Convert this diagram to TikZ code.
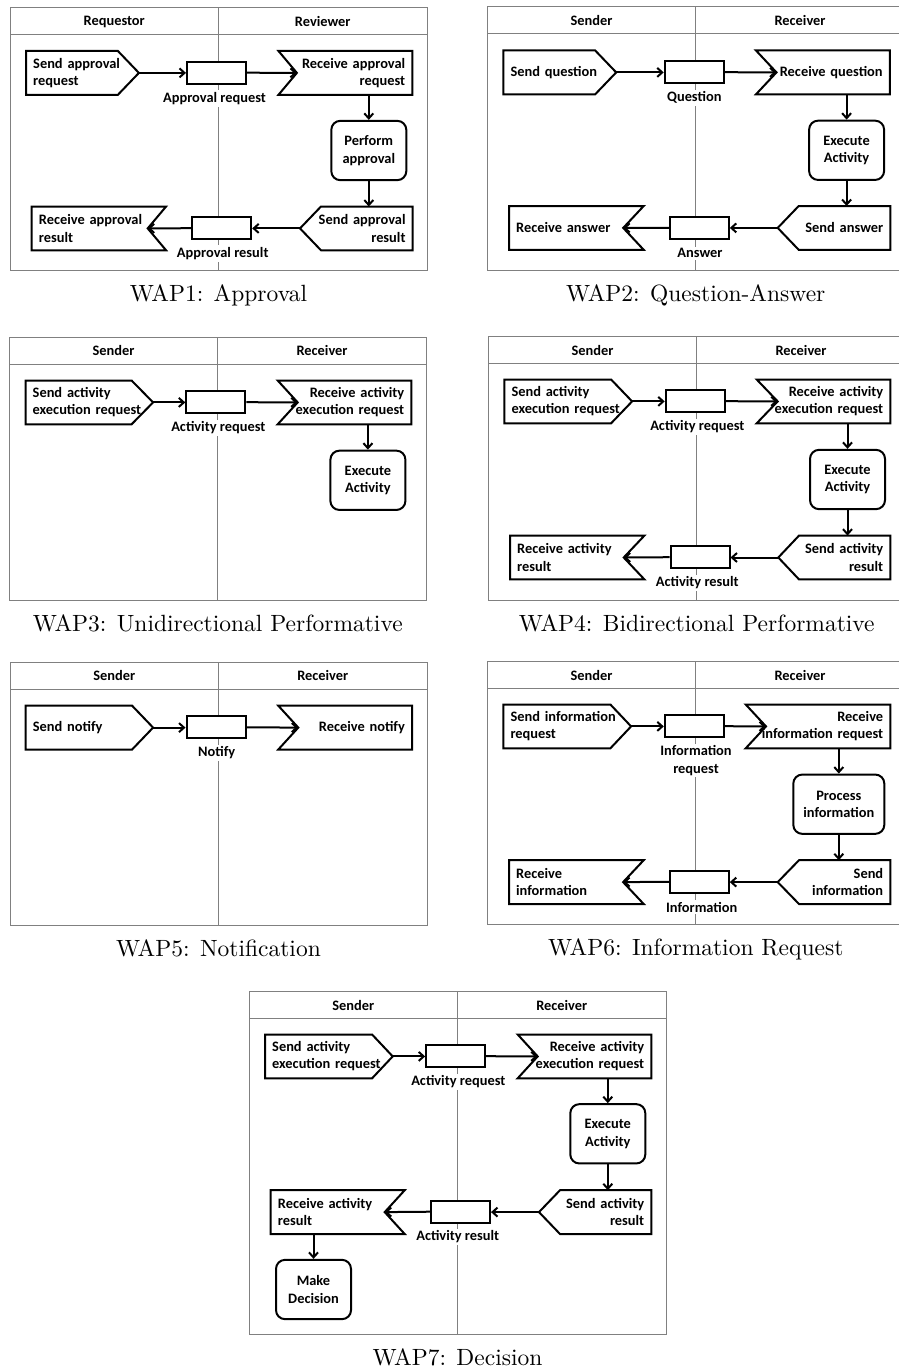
\documentclass[tikz,border=0pt]{standalone}
\usepackage{fontspec}
\newfontfamily\carlito{Carlito}
\newfontfamily\capfont{lmroman10-regular}[Extension=.otf]
\usetikzlibrary{arrows.meta}
\newcommand{\dfnt}{\carlito\bfseries\fontsize{14.4}{17.3}\selectfont}
\newcommand{\cfnt}{\capfont\fontsize{23.5}{28}\selectfont}
% outlines drawn around the named text nodes
\newcommand{\outSendR}[2]{\draw[shp] (#1.north west) -- ([xshift=-#2]#1.north east) -- (#1.east) -- ([xshift=-#2]#1.south east) -- (#1.south west) -- cycle;}
\newcommand{\outRecvL}[2]{\draw[shp] (#1.north west) -- (#1.north east) -- (#1.south east) -- (#1.south west) -- ([xshift=#2]#1.west) -- cycle; \coordinate (#1-n) at ([xshift=#2]#1.west);}
\newcommand{\outSendL}[2]{\draw[shp] (#1.west) -- ([xshift=#2]#1.north west) -- (#1.north east) -- (#1.south east) -- ([xshift=#2]#1.south west) -- cycle;}
\newcommand{\outRecvR}[2]{\draw[shp] (#1.north west) -- (#1.north east) -- ([xshift=-#2]#1.east) -- (#1.south east) -- (#1.south west) -- cycle; \coordinate (#1-n) at ([xshift=-#2]#1.east);}
\newcommand{\wapframe}[5]{%
  \draw[laneframe] (0,0) rectangle (417,#2);
  \draw[laneframe] (0,27) -- (417,27);
  \draw[laneframe] (208.5,0) -- (208.5,#2);
  \node[hdrtxt] (#1h1) at (104.25,13.5) {#3};
  \node[hdrtxt] (#1h2) at (312.75,13.5) {#4};
  \node[captxt] (#1cap) at (208.5,#2+31) {#5};
}
\begin{document}
\begin{tikzpicture}[x=1pt,y=-1pt,
  laneframe/.style={draw=black!50, line width=1pt},
  hdrtxt/.style={font=\dfnt, inner sep=0pt},
  captxt/.style={font=\cfnt, anchor=base, inner sep=0pt},
  shp/.style={draw=black, line width=2pt, line join=miter},
  sR/.style={rectangle, anchor=north west, inner xsep=7pt, inner ysep=0pt, minimum height=43.4pt, align=left, font=\dfnt},
  rL/.style={rectangle, anchor=north west, inner xsep=7pt, inner ysep=0pt, minimum height=43.4pt, align=right, font=\dfnt},
  sL/.style={rectangle, anchor=north west, inner xsep=7pt, inner ysep=0pt, minimum height=43.4pt, align=right, font=\dfnt},
  rR/.style={rectangle, anchor=north west, inner xsep=7pt, inner ysep=0pt, minimum height=43.4pt, align=left, font=\dfnt},
  proc/.style={draw=black, line width=2pt, rounded corners=9pt, minimum width=75pt, minimum height=59.3pt, inner sep=0pt, align=center, font=\dfnt},
  dbox/.style={draw=black, fill=white, line width=2pt, minimum width=59pt, minimum height=22pt, inner sep=0pt},
  dlab/.style={fill=white, font=\dfnt, inner sep=2pt, align=center},
  arr/.style={draw=black, line width=2pt, -{Straight Barb[length=5pt,width=9pt]}}
]
\useasboundingbox (0,0) rectangle (898,1370);
\fill[white] (0,0) rectangle (898,1370);

% ---------------- WAP1 ----------------
\begin{scope}[shift={(10,8)}]
\wapframe{p1}{262}{Requestor}{Reviewer}{WAP1: Approval}
\node[sR, text width=98.5pt] (p1a) at (16,43) {Send~approval\\request};
\outSendR{p1a}{21pt}
\node[dbox] (p1b) at (206.5,64.7) {};
\node[dlab] (p1c) at (204.5,90.4) {Approval request};
\node[rL, text width=119.5pt] (p1d) at (268.5,43) {Receive~approval\\request};
\outRecvL{p1d}{18.4pt}
\node[proc] (p1e) at (358.8,142.5) {Perform\\approval};
\node[sL, text width=98.3pt] (p1f) at (290,198.5) {Send~approval\\result};
\outSendL{p1f}{21pt}
\node[dbox] (p1g) at (211.7,220.2) {};
\node[dlab] (p1h) at (212.7,245.5) {Approval result};
\node[rR, text width=120pt] (p1i) at (21.7,198.5) {Receive~approval\\result};
\outRecvR{p1i}{18.4pt}
\draw[arr] (p1a.east) -- (p1a.east -| p1b.west);
\draw[arr] (p1b.east) -- (p1d-n);
\draw[arr] (p1e.north |- p1d.south) -- (p1e.north);
\draw[arr] (p1e.south) -- (p1e.south |- p1f.north);
\draw[arr] (p1f.west) -- (p1f.west -| p1g.east);
\draw[arr] (p1g.west) -- (p1i-n);
\end{scope}

% ---------------- WAP2 ----------------
\begin{scope}[shift={(487.3,7)}]
\wapframe{p2}{263}{Sender}{Receiver}{WAP2: Question-Answer}
\node[sR, text width=98.5pt] (p2a) at (16,43.5) {Send~question};
\outSendR{p2a}{21pt}
\node[dbox] (p2b) at (206.9,65.2) {};
\node[dlab] (p2c) at (207,90.7) {Question};
\node[rL, text width=119.5pt] (p2d) at (268.7,43.5) {Receive~question};
\outRecvL{p2d}{20.5pt}
\node[proc] (p2e) at (359.3,143.3) {Execute\\Activity};
\node[sL, text width=98.3pt] (p2f) at (290.4,199) {Send~answer};
\outSendL{p2f}{21pt}
\node[dbox] (p2g) at (212,220.8) {};
\node[dlab] (p2h) at (212.7,246.3) {Answer};
\node[rR, text width=120.3pt] (p2i) at (21.7,199) {Receive~answer};
\outRecvR{p2i}{20.5pt}
\draw[arr] (p2a.east) -- (p2a.east -| p2b.west);
\draw[arr] (p2b.east) -- (p2d-n);
\draw[arr] (p2e.north |- p2d.south) -- (p2e.north);
\draw[arr] (p2e.south) -- (p2e.south |- p2f.north);
\draw[arr] (p2f.west) -- (p2f.west -| p2g.east);
\draw[arr] (p2g.west) -- (p2i-n);
\end{scope}

% ---------------- WAP3 ----------------
\begin{scope}[shift={(9.3,337.3)}]
\wapframe{p3}{262.7}{Sender}{Receiver}{WAP3: Unidirectional Performative}
\node[sR, text width=113.2pt] (p3a) at (16.2,43.2) {Send~activity\\execution~request};
\outSendR{p3a}{21.5pt}
\node[dbox] (p3b) at (206.5,64.9) {};
\node[dlab] (p3c) at (209,90.4) {Activity request};
\node[rL, text width=119.3pt] (p3d) at (268.4,43.2) {Receive~activity\\execution~request};
\outRecvL{p3d}{20pt}
\node[proc] (p3e) at (358.6,143) {Execute\\Activity};
\draw[arr] (p3a.east) -- (p3a.east -| p3b.west);
\draw[arr] (p3b.east) -- (p3d-n);
\draw[arr] (p3e.north |- p3d.south) -- (p3e.north);
\end{scope}

% ---------------- WAP4 ----------------
\begin{scope}[shift={(488.3,336.7)}]
\wapframe{p4}{263.3}{Sender}{Receiver}{WAP4: Bidirectional Performative}
\node[sR, text width=113.4pt] (p4a) at (16,42.8) {Send~activity\\execution~request};
\outSendR{p4a}{21pt}
\node[dbox] (p4b) at (206.9,64.5) {};
\node[dlab] (p4c) at (209,90) {Activity request};
\node[rL, text width=119.3pt] (p4d) at (268.4,42.8) {Receive~activity\\execution~request};
\outRecvL{p4d}{21pt}
\node[proc] (p4e) at (359.2,142.8) {Execute\\Activity};
\node[sL, text width=97.7pt] (p4f) at (290,198.9) {Send~activity\\result};
\outSendL{p4f}{20.7pt}
\node[dbox] (p4g) at (211.7,220.5) {};
\node[dlab] (p4h) at (209,246) {Activity result};
\node[rR, text width=120pt] (p4i) at (21.7,198.9) {Receive~activity\\result};
\outRecvR{p4i}{20.7pt}
\draw[arr] (p4a.east) -- (p4a.east -| p4b.west);
\draw[arr] (p4b.east) -- (p4d-n);
\draw[arr] (p4e.north |- p4d.south) -- (p4e.north);
\draw[arr] (p4e.south) -- (p4e.south |- p4f.north);
\draw[arr] (p4f.west) -- (p4f.west -| p4g.east);
\draw[arr] (p4g.west) -- (p4i-n);
\end{scope}

% ---------------- WAP5 ----------------
\begin{scope}[shift={(10,662.3)}]
\wapframe{p5}{262.7}{Sender}{Receiver}{WAP5: Notification}
\node[sR, text width=113pt] (p5a) at (15.7,43.4) {Send~notify};
\outSendR{p5a}{21pt}
\node[dbox] (p5b) at (206,65) {};
\node[dlab] (p5c) at (206.7,90.4) {Notify};
\node[rL, text width=119.4pt] (p5d) at (268.3,43.4) {Receive~notify};
\outRecvL{p5d}{20pt}
\draw[arr] (p5a.east) -- (p5a.east -| p5b.west);
\draw[arr] (p5b.east) -- (p5d-n);
\end{scope}

% ---------------- WAP6 ----------------
\begin{scope}[shift={(487.3,661.7)}]
\wapframe{p6}{262.6}{Sender}{Receiver}{WAP6: Information Request}
\node[sR, text width=113.4pt] (p6a) at (16,42.8) {Send~information\\request};
\outSendR{p6a}{20.7pt}
\node[dbox] (p6b) at (207,64.5) {};
\node[dlab] (p6c) at (208.7,98.8) {Information\\request};
\node[rL, text width=130.3pt] (p6d) at (258.4,42.8) {Receive\\information~request};
\outRecvL{p6d}{20.3pt}
\node[proc, minimum width=91pt] (p6e) at (351.5,142.5) {Process\\information};
\node[sL, text width=98.3pt] (p6f) at (290.4,198.5) {Send\\information};
\outSendL{p6f}{21.3pt}
\node[dbox] (p6g) at (212,220.1) {};
\node[dlab] (p6h) at (214.4,245.6) {Information};
\node[rR, text width=120.3pt] (p6i) at (21.7,198.5) {Receive\\information};
\outRecvR{p6i}{20.6pt}
\draw[arr] (p6a.east) -- (p6a.east -| p6b.west);
\draw[arr] (p6b.east) -- (p6d-n);
\draw[arr] (p6e.north |- p6d.south) -- (p6e.north);
\draw[arr] (p6e.south) -- (p6e.south |- p6f.north);
\draw[arr] (p6f.west) -- (p6f.west -| p6g.east);
\draw[arr] (p6g.west) -- (p6i-n);
\end{scope}

% ---------------- WAP7 ----------------
\begin{scope}[shift={(249,991.7)}]
\wapframe{p7}{342.3}{Sender}{Receiver}{WAP7: Decision}
\node[sR, text width=113.3pt] (p7a) at (16,42.8) {Send~activity\\execution~request};
\outSendR{p7a}{20.6pt}
\node[dbox] (p7b) at (206.7,64.5) {};
\node[dlab] (p7c) at (209.3,90) {Activity request};
\node[rL, text width=119.3pt] (p7d) at (268.7,42.8) {Receive~activity\\execution~request};
\outRecvL{p7d}{20pt}
\node[proc] (p7e) at (358.8,142.1) {Execute\\Activity};
\node[sL, text width=98pt] (p7f) at (290,198.5) {Send~activity\\result};
\outSendL{p7f}{21pt}
\node[dbox] (p7g) at (211.5,220) {};
\node[dlab] (p7h) at (208.7,245) {Activity result};
\node[rR, text width=119.6pt] (p7i) at (21.7,198.5) {Receive~activity\\result};
\outRecvR{p7i}{20pt}
\node[proc] (p7m) at (64.5,297.8) {Make\\Decision};
\draw[arr] (p7a.east) -- (p7a.east -| p7b.west);
\draw[arr] (p7b.east) -- (p7d-n);
\draw[arr] (p7e.north |- p7d.south) -- (p7e.north);
\draw[arr] (p7e.south) -- (p7e.south |- p7f.north);
\draw[arr] (p7f.west) -- (p7f.west -| p7g.east);
\draw[arr] (p7g.west) -- (p7i-n);
\draw[arr] (p7m.north |- p7i.south) -- (p7m.north);
\end{scope}
\end{tikzpicture}
\end{document}
